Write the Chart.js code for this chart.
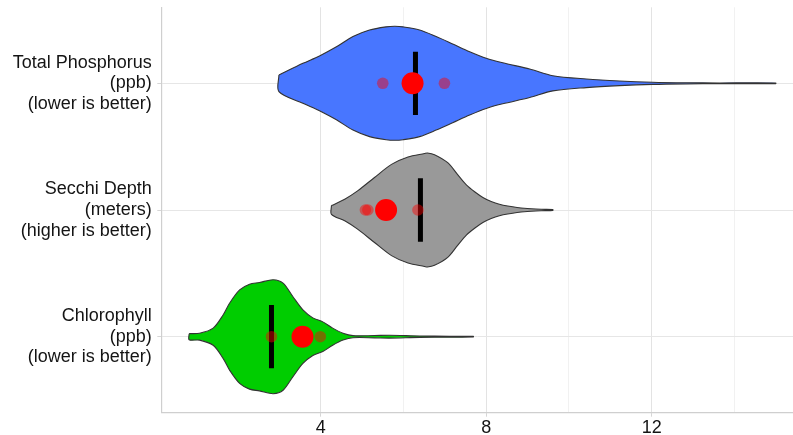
<!DOCTYPE html>
<html>
<head>
<meta charset="utf-8">
<script src="https://cdn.jsdelivr.net/npm/chart.js@4/dist/chart.umd.min.js"></script>
<style>
  html, body { margin: 0; padding: 0; background: #ffffff; }
  #wrap { width: 793px; height: 435px; position: relative; }
</style>
</head>
<body>
<div id="wrap"><canvas id="c"></canvas></div>
<script>
// ---- Data ----
const categories = ['Chlorophyll', 'Secchi Depth', 'Total Phosphorus'];
const categoryLabels = [
  ['Chlorophyll', '(ppb)', '(lower is better)'],
  ['Secchi Depth', '(meters)', '(higher is better)'],
  ['Total Phosphorus', '(ppb)', '(lower is better)']
];

// violin density profiles (x value, relative density 0..1)
const chlX = [0.82, 1.07, 1.40, 1.64, 1.80, 2.04, 2.28, 2.52, 2.85, 3.09, 3.33, 3.57, 3.81, 4.05, 4.29, 4.54, 4.78, 5.30, 5.66, 6.39, 7.11, 7.69];
const chlDensity = [0.053, 0.06, 0.15, 0.38, 0.59, 0.82, 0.92, 0.95, 1.0, 0.94, 0.70, 0.47, 0.33, 0.26, 0.15, 0.06, 0.018, 0.02, 0.025, 0.012, 0.008, 0.005];

const secchiX = [4.26, 4.58, 4.90, 5.30, 5.71, 6.11, 6.51, 6.58, 6.75, 7.07, 7.31, 7.52, 7.72, 7.92, 8.12, 8.32, 8.52, 8.92, 9.33, 9.61];
const secchiDensity = [0.077, 0.19, 0.34, 0.57, 0.80, 0.93, 0.99, 1.0, 0.97, 0.83, 0.62, 0.44, 0.32, 0.22, 0.15, 0.10, 0.07, 0.03, 0.012, 0.008];

const tpX = [2.99, 3.57, 3.97, 4.38, 4.78, 5.18, 5.58, 5.79, 5.99, 6.39, 6.79, 7.19, 7.60, 8.00, 8.40, 9.05, 9.61, 10.42, 11.22, 12.02, 12.83, 13.64, 14.44, 15.00];
const tpDensity = [0.146, 0.35, 0.48, 0.64, 0.82, 0.935, 0.99, 1.0, 0.99, 0.935, 0.82, 0.69, 0.555, 0.44, 0.36, 0.25, 0.133, 0.075, 0.04, 0.018, 0.009, 0.006, 0.008, 0.005];

// black bar (per category, in category order)
const barValues = [2.81, 6.41, 6.29];
// large red dot (per category)
const bigDotValues = [3.56, 5.58, 6.22];
// small translucent dots
const chlSmallDots = [2.81, 3.99];
const secchiSmallDots = [5.08, 5.14, 6.35];
const tpSmallDots = [5.50, 6.99];

// axis ticks
const xMajorTicks = [4, 8, 12];
const xMinorTicks = [6, 10, 14];

// ---- Build datasets ----
const HALF = 0.45;
function violin(xs, ds, c) {
  const pts = [];
  for (let i = 0; i < xs.length; i++) pts.push({ x: xs[i], y: c + HALF * ds[i] });
  for (let i = xs.length - 1; i >= 0; i--) pts.push({ x: xs[i], y: c - HALF * ds[i] });
  pts.push({ x: xs[0], y: c + HALF * ds[0] });
  return pts;
}
const violinData = [
  { xs: chlX, ds: chlDensity, color: '#00CD00' },
  { xs: secchiX, ds: secchiDensity, color: '#999999' },
  { xs: tpX, ds: tpDensity, color: '#4876FF' }
];
const datasets = [];
violinData.forEach((v, i) => {
  datasets.push({
    type: 'scatter',
    data: violin(v.xs, v.ds, i + 1),
    showLine: true,
    fill: 'shape',
    backgroundColor: v.color,
    borderColor: '#333333',
    borderWidth: 1.1,
    tension: 0.3,
    pointRadius: 0,
    order: 10
  });
});
barValues.forEach((v, i) => {
  datasets.push({
    type: 'scatter',
    data: [{ x: v, y: i + 1 - 0.25 }, { x: v, y: i + 1 + 0.25 }],
    showLine: true,
    fill: false,
    borderColor: '#000000',
    borderWidth: 5,
    borderCapStyle: 'butt',
    pointRadius: 0,
    order: 8
  });
});
const smallSets = [chlSmallDots, secchiSmallDots, tpSmallDots];
smallSets.forEach((arr, i) => {
  datasets.push({
    type: 'scatter',
    data: arr.map(v => ({ x: v, y: i + 1 })),
    pointRadius: 5.8,
    pointBorderWidth: 0,
    pointBackgroundColor: 'rgba(255,0,0,0.45)',
    pointHoverRadius: 5.8,
    order: 6
  });
});
datasets.push({
  type: 'scatter',
  data: bigDotValues.map((v, i) => ({ x: v, y: i + 1 })),
  pointRadius: 11,
  pointBorderWidth: 0,
  pointBackgroundColor: '#FF0000',
  pointHoverRadius: 11,
  order: 4
});

const FONT = { family: '"Liberation Sans", Arial, sans-serif', size: 18 };
const YFONT = { family: '"Liberation Sans", Arial, sans-serif', size: 18, lineHeight: 1.15 };

function noPad(s) {
  s.paddingTop = 0; s.paddingBottom = 0; s.paddingLeft = 0; s.paddingRight = 0;
}

new Chart(document.getElementById('c'), {
  type: 'scatter',
  data: { datasets },
  options: {
    responsive: true,
    maintainAspectRatio: false,
    animation: false,
    devicePixelRatio: 1,
    layout: { autoPadding: false, padding: { top: 7.3, right: 0, left: 0, bottom: 0 } },
    plugins: { legend: { display: false }, tooltip: { enabled: false } },
    scales: {
      x: {
        type: 'linear',
        min: 0.147,
        max: 15.415,
        afterBuildTicks: (s) => {
          s.ticks = xMajorTicks.concat(xMinorTicks).sort((a, b) => a - b).map(v => ({ value: v }));
        },
        afterFit: (s) => { s.height = 22.3; noPad(s); },
        ticks: {
          autoSkip: false,
          maxRotation: 0,
          padding: 1,
          color: '#141414',
          font: FONT,
          callback: (v) => xMajorTicks.includes(v) ? String(v) : ''
        },
        grid: {
          color: (ctx) => (ctx.tick && xMajorTicks.includes(ctx.tick.value)) ? '#e3e3e3' : '#f1f1f1',
          tickColor: (ctx) => (ctx.tick && xMajorTicks.includes(ctx.tick.value)) ? '#d6d6d6' : 'rgba(0,0,0,0)',
          tickLength: 4,
          lineWidth: 1
        },
        border: { display: true, color: '#cfcfcf', width: 1.2 }
      },
      y: {
        type: 'linear',
        min: 0.4,
        max: 3.6,
        afterBuildTicks: (s) => { s.ticks = [1, 2, 3].map(v => ({ value: v })); },
        afterFit: (s) => { s.width = 161.3; noPad(s); },
        ticks: {
          autoSkip: false,
          padding: 5.5,
          color: '#141414',
          font: YFONT,
          crossAlign: 'near',
          callback: (v) => categoryLabels[v - 1]
        },
        grid: {
          color: '#e6e6e6',
          tickColor: '#d6d6d6',
          tickLength: 4,
          lineWidth: 1
        },
        border: { display: true, color: '#cfcfcf', width: 1.2 }
      }
    }
  }
});
</script>
</body>
</html>
